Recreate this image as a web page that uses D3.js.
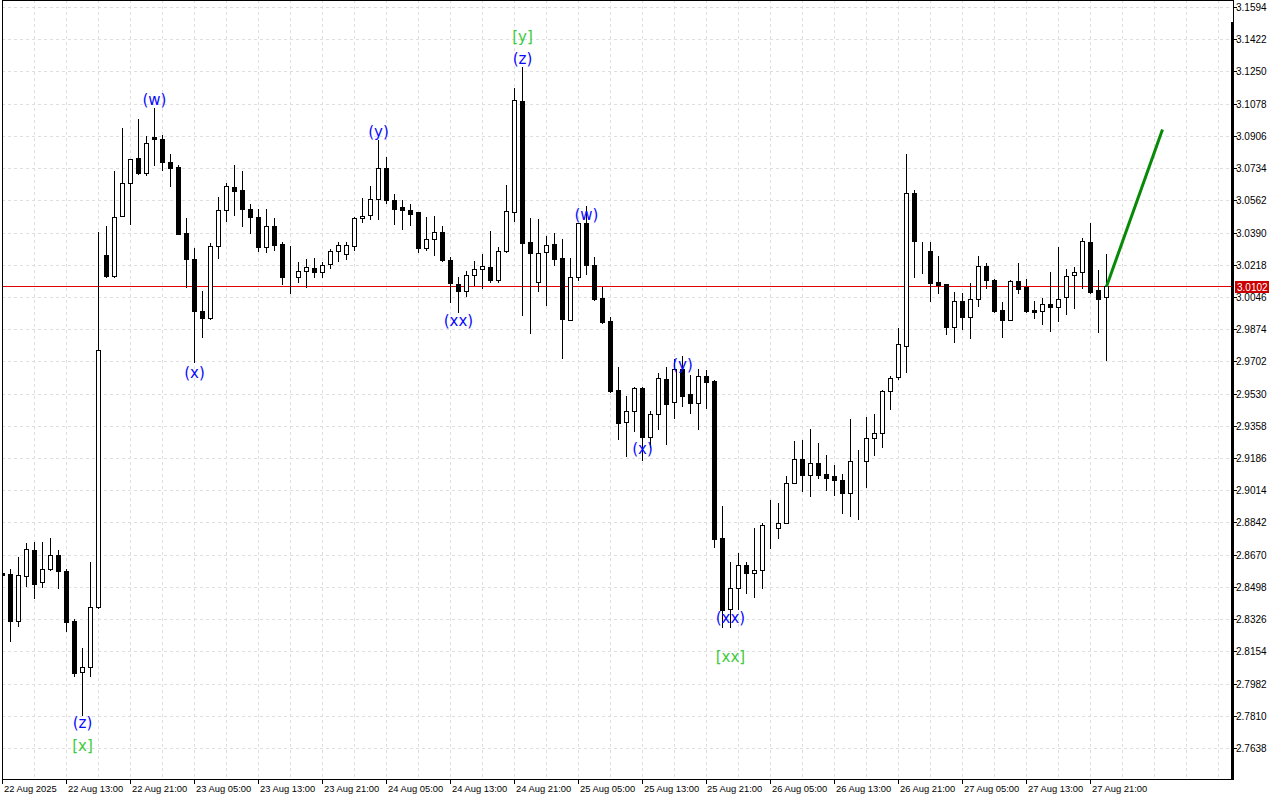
<!DOCTYPE html>
<html><head><meta charset="utf-8">
<script src="https://cdn.jsdelivr.net/npm/d3@7"></script>
<style>html,body{margin:0;padding:0;background:#fff}svg{display:block}</style>
</head><body>
<svg id="chart" width="1280" height="800"></svg>
<script>
// ---- DATA (hourly bars, 22 Aug 2025 05:00 -> 27 Aug 2025 23:00) ----
const firstBar = "2025-08-22T05:00:00Z";
const lastBar  = "2025-08-27T23:00:00Z";
const opens = [2.8572,2.8567,2.8317,2.8558,2.8695,2.8522,2.8592,2.8668,2.8583,2.8316,2.8045,2.8068,2.8389,3.0271,3.0160,3.0478,3.0654,3.0787,3.0710,3.0900,3.0889,3.0768,3.0739,3.0387,3.0248,2.9972,2.9931,3.0317,3.0510,3.0632,3.0618,3.0515,3.0474,3.0312,3.0426,3.0330,3.0152,3.0152,3.0182,3.0200,3.0178,3.0223,3.0292,3.0275,3.0320,3.0467,3.0481,3.0568,3.0736,3.0563,3.0527,3.0511,3.0501,3.0310,3.0355,3.0394,3.0244,3.0114,3.0077,3.0162,3.0194,3.0205,3.0136,3.0291,3.0502,3.1093,3.0342,3.0128,3.0285,3.0330,3.0253,2.9922,3.0152,3.0440,3.0217,3.0041,2.9917,2.9550,2.9377,2.9436,2.9560,2.9300,2.9420,2.9608,2.9484,2.9660,2.9528,2.9479,2.9623,2.9598,2.8759,2.8378,2.8490,2.8613,2.8571,2.8588,2.8819,2.8811,2.8838,2.9055,2.9180,2.9094,2.9158,2.9099,2.9089,2.9067,2.9001,2.9165,2.9169,2.9292,2.9318,2.9544,2.9621,2.9786,3.0600,3.0299,3.0292,3.0127,3.0114,2.9888,3.0024,2.9938,3.0034,3.0210,3.0136,2.9975,2.9925,3.0130,3.0100,2.9975,2.9970,3.0008,2.9991,3.0045,3.0162,3.0178,3.0339,3.0082,3.0045];
const highs = [2.8580,2.8593,2.8659,2.8732,2.8738,2.8738,2.8759,2.8695,2.8592,2.8326,2.8171,2.8631,3.0394,3.0426,3.0716,3.0948,3.0785,3.0997,3.0907,3.1056,3.0912,3.0810,3.0750,3.0468,3.0308,3.0079,3.0333,3.0579,3.0654,3.0752,3.0716,3.0542,3.0517,3.0517,3.0468,3.0337,3.0319,3.0233,3.0246,3.0253,3.0232,3.0303,3.0339,3.0339,3.0474,3.0574,3.0639,3.0885,3.0793,3.0598,3.0563,3.0543,3.0501,3.0475,3.0479,3.0427,3.0259,3.0152,3.0187,3.0239,3.0275,3.0399,3.0315,3.0645,3.1161,3.1274,3.0467,3.0463,3.0372,3.0388,3.0356,3.0253,3.0440,3.0529,3.0259,3.0101,2.9938,2.9674,2.9518,2.9567,2.9567,2.9439,2.9639,2.9674,2.9714,2.9731,2.9628,2.9660,2.9656,2.9603,2.8932,2.8633,2.8677,2.8633,2.8814,2.8841,2.8962,2.8948,2.9090,2.9277,2.9283,2.9340,2.9265,2.9201,2.9147,2.9099,2.9393,2.9229,2.9404,2.9421,2.9550,2.9624,2.9879,3.0810,3.0618,3.0340,3.0340,3.0265,3.0114,3.0073,3.0066,3.0120,3.0265,3.0226,3.0141,3.0020,3.0137,3.0226,3.0141,3.0024,3.0041,3.0180,3.0312,3.0194,3.0208,3.0363,3.0442,3.0191,3.0276];
const lows = [2.8550,2.8211,2.8289,2.8503,2.8440,2.8499,2.8588,2.8494,2.8264,2.8022,2.7814,2.8024,2.8385,3.0155,3.0155,3.0478,3.0436,3.0704,3.0698,3.0752,3.0725,3.0639,3.0383,3.0101,2.9699,2.9834,2.9927,3.0256,3.0454,3.0481,3.0427,3.0385,3.0294,3.0288,3.0298,3.0116,3.0066,3.0127,3.0101,3.0155,3.0155,3.0200,3.0240,3.0251,3.0298,3.0446,3.0462,3.0463,3.0547,3.0438,3.0410,3.0431,3.0288,3.0299,3.0272,3.0240,3.0021,2.9965,3.0050,3.0111,3.0096,3.0128,3.0125,3.0285,3.0449,2.9950,2.9853,3.0080,3.0004,3.0217,2.9721,2.9921,3.0137,3.0166,3.0030,2.9906,2.9541,2.9288,2.9197,2.9332,2.9176,2.9247,2.9343,2.9263,2.9402,2.9466,2.9425,2.9343,2.9452,2.8713,2.8285,2.8285,2.8378,2.8467,2.8445,2.8494,2.8707,2.8761,2.8838,2.9051,2.9012,2.8985,2.9081,2.9016,2.8989,2.8894,2.8878,2.8861,2.9033,2.9203,2.9247,2.9448,2.9607,2.9647,3.0155,3.0173,3.0027,3.0069,2.9847,2.9805,2.9874,2.9829,3.0000,3.0093,2.9968,2.9834,2.9924,3.0066,2.9968,2.9936,2.9901,2.9866,2.9915,2.9957,2.9989,3.0096,3.0069,2.9861,2.9710];
const closes = [2.8562,2.8317,2.8561,2.8700,2.8515,2.8592,2.8668,2.8584,2.8312,2.8040,2.8068,2.8389,2.9763,3.0159,3.0472,3.0654,3.0782,3.0710,3.0869,3.0889,3.0769,3.0736,3.0383,3.0251,2.9973,2.9931,3.0319,3.0510,3.0639,3.0611,3.0515,3.0472,3.0312,3.0426,3.0326,3.0150,3.0151,3.0185,3.0205,3.0178,3.0216,3.0294,3.0323,3.0323,3.0468,3.0479,3.0568,3.0736,3.0561,3.0518,3.0508,3.0491,3.0310,3.0356,3.0394,3.0244,3.0118,3.0077,3.0162,3.0194,3.0210,3.0134,3.0292,3.0504,3.1099,3.0333,3.0280,3.0280,3.0323,3.0251,2.9927,3.0152,3.0440,3.0214,3.0037,2.9913,2.9546,2.9375,2.9436,2.9559,2.9300,2.9420,2.9612,2.9477,2.9660,2.9519,2.9479,2.9623,2.9591,2.8755,2.8374,2.8490,2.8613,2.8571,2.8588,2.8829,2.8820,2.8838,2.9055,2.9180,2.9097,2.9158,2.9097,2.9081,2.9067,2.9001,2.9169,2.9166,2.9292,2.9318,2.9544,2.9612,2.9794,3.0600,3.0347,3.0298,3.0123,3.0112,2.9885,3.0024,2.9938,3.0034,3.0210,3.0134,2.9973,2.9925,3.0130,3.0091,2.9973,2.9968,3.0008,2.9991,3.0037,3.0157,3.0178,3.0344,3.0075,3.0037,3.0102];

const priceTicks = [3.1594,3.1422,3.1250,3.1078,3.0906,3.0734,3.0562,3.0390,3.0218,3.0046,2.9874,2.9702,2.9530,2.9358,2.9186,2.9014,2.8842,2.8670,2.8498,2.8326,2.8154,2.7982,2.7810,2.7638];
const bidPrice = 3.0102;

// wave labels: text, bar index, price position, kind
const waveText  = ["(z)","[x]","(w)","(x)","(y)","(xx)","[y]","(z)","(w)","(x)","(y)","(xx)","[xx]"];
const waveBar   = [10,10,19,24,47,57,65,65,73,80,85,91,91];
const wavePrice = [2.7769,2.7650,3.1095,2.9639,3.0924,2.9915,3.1434,3.1316,3.0481,2.9233,2.9682,2.8333,2.8122];
const waveKind  = ["minor","major","minor","minor","minor","minor","major","minor","minor","minor","minor","minor","major"];

// forecast line
const forecastTimes  = ["2025-08-27T23:00:00Z","2025-08-28T06:00:00Z"];
const forecastPrices = [3.0102, 3.0940];

// ---- LAYOUT ----
const L = 2, T = 0, R = 1233, B = 779;
const svg = d3.select("#chart");
const t0 = new Date(firstBar), t1 = new Date(lastBar);
const times = d3.utcHours(t0, new Date(+t1 + 1));
const bars = times.map((t,i)=>({t, o:opens[i], h:highs[i], l:lows[i], c:closes[i]}));

const x = d3.scaleUtc().domain([t0, t1]).range([2.5, 1106.5]);
const y = d3.scaleLinear().domain([2.7638, 3.1594]).range([748, 7]);
const py = v => Math.round(y(v));

svg.append("rect").attr("width",1280).attr("height",800).attr("fill","#fff");
svg.append("defs").append("clipPath").attr("id","clip")
  .append("rect").attr("x",L).attr("y",T).attr("width",R-L-2).attr("height",B-T);

const plot = svg.append("g").attr("clip-path","url(#clip)");

// grid
const gridColor = "#dedede";
plot.append("g").selectAll("line").data(priceTicks).join("line")
  .attr("x1",L).attr("x2",R).attr("y1",d=>py(d)+0.5).attr("y2",d=>py(d)+0.5)
  .attr("stroke",gridColor).attr("stroke-dasharray","3,3").attr("shape-rendering","crispEdges");
const vgrid = d3.utcHours(t0, x.invert(R), 4);
plot.append("g").selectAll("line").data(vgrid).join("line")
  .attr("x1",d=>Math.round(x(d)-0.5)+0.5).attr("x2",d=>Math.round(x(d)-0.5)+0.5).attr("y1",T).attr("y2",B)
  .attr("stroke",gridColor).attr("stroke-dasharray","3,3").attr("shape-rendering","crispEdges");

// bid line
plot.append("line").attr("x1",L).attr("x2",R).attr("y1",py(bidPrice)+0.5).attr("y2",py(bidPrice)+0.5)
  .attr("stroke","#e00000").attr("stroke-width",1).attr("shape-rendering","crispEdges");

// candles
const cg = plot.append("g").attr("shape-rendering","crispEdges");
const cx = d => Math.round(x(d.t)-0.5)+0.5;
cg.selectAll("line.wick").data(bars).join("line").attr("class","wick")
  .attr("x1",cx).attr("x2",cx).attr("y1",d=>py(d.h)).attr("y2",d=>py(d.l)+1)
  .attr("stroke","#000").attr("stroke-width",1);
cg.selectAll("rect.body").data(bars).join("rect").attr("class","body")
  .attr("x",d=>cx(d)-2).attr("width",4)
  .attr("y",d=>py(Math.max(d.o,d.c))+0.5)
  .attr("height",d=>Math.max(0, py(Math.min(d.o,d.c))-py(Math.max(d.o,d.c))))
  .attr("fill",d=>d.c>=d.o?"#fff":"#000").attr("stroke","#000").attr("stroke-width",1);

// forecast line
const fdata = forecastTimes.map((t,i)=>[x(new Date(t)), y(forecastPrices[i])]);
plot.append("path").attr("d", d3.line()(fdata)).attr("stroke","#078a07").attr("stroke-width",3).attr("fill","none");

// wave labels
plot.append("g").selectAll("text").data(waveText).join("text")
  .attr("x",(d,i)=>x(times[waveBar[i]])).attr("y",(d,i)=>y(wavePrice[i]))
  .attr("dy","0.32em").attr("text-anchor","middle")
  .attr("font-family","DejaVu Sans, Verdana, sans-serif").attr("font-size",15)
  .attr("fill",(d,i)=>waveKind[i]==="major"?"#3ccb3c":"#0a0aff")
  .text(d=>d);

// frame
const frame = svg.append("g").attr("shape-rendering","crispEdges").attr("stroke","#000");
frame.append("line").attr("x1",L+0.5).attr("x2",L+0.5).attr("y1",T).attr("y2",B+1);
frame.append("line").attr("x1",L).attr("x2",R+1).attr("y1",T+0.5).attr("y2",T+0.5);
frame.append("line").attr("x1",L).attr("x2",R+1).attr("y1",B+0.5).attr("y2",B+0.5);
frame.append("line").attr("x1",R+0.5).attr("x2",R+0.5).attr("y1",T).attr("y2",B+1);
frame.append("rect").attr("x",R-2).attr("y",22).attr("width",3).attr("height",B-22+1).attr("fill","#000").attr("stroke","none");

// y axis ticks and labels
const ya = svg.append("g");
ya.selectAll("line").data(priceTicks).join("line")
  .attr("x1",R+1).attr("x2",R+4).attr("y1",d=>py(d)+0.5).attr("y2",d=>py(d)+0.5)
  .attr("stroke","#000").attr("shape-rendering","crispEdges");
ya.selectAll("text").data(priceTicks).join("text")
  .attr("x",R+3).attr("y",d=>py(d)+4)
  .attr("font-family","Liberation Sans, Arial, sans-serif").attr("font-size",10).attr("fill","#000")
  .text(d=>d.toFixed(4));

// bid label
ya.append("rect").attr("x",R+2).attr("y",py(bidPrice)-5).attr("width",34).attr("height",12).attr("fill","#cc0000");
ya.append("text").attr("x",R+4).attr("y",py(bidPrice)+5)
  .attr("font-family","Liberation Sans, Arial, sans-serif").attr("font-size",10).attr("fill","#fff")
  .text(bidPrice.toFixed(4));

// x axis ticks and labels
const xticks = d3.utcHours(t0, new Date(+t1 + 1), 8);
const fFirst = d3.utcFormat("%d %b %Y"), fOther = d3.utcFormat("%d %b %H:%M");
const xa = svg.append("g");
xa.selectAll("line").data(xticks).join("line")
  .attr("x1",d=>Math.round(x(d)-0.5)+0.5).attr("x2",d=>Math.round(x(d)-0.5)+0.5).attr("y1",B).attr("y2",B+5)
  .attr("stroke","#000").attr("shape-rendering","crispEdges");
xa.selectAll("text").data(xticks).join("text")
  .attr("x",d=>Math.round(x(d))+1).attr("y",B+13)
  .attr("font-family","Liberation Sans, Arial, sans-serif").attr("font-size",9.4).attr("fill","#000")
  .text((d,i)=>i===0?fFirst(d):fOther(d));
</script>
</body></html>
